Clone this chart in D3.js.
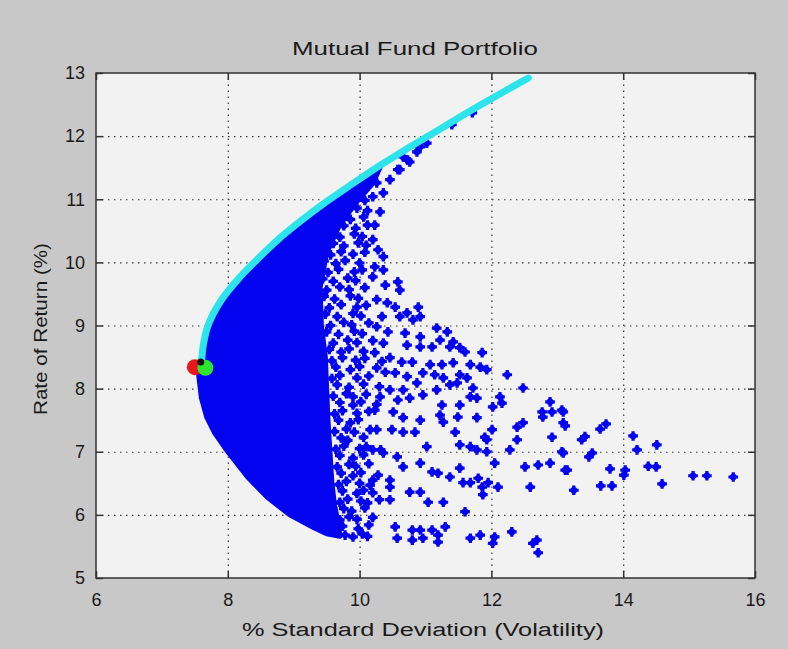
<!DOCTYPE html>
<html>
<head>
<meta charset="utf-8">
<script src="https://cdn.jsdelivr.net/npm/d3@7"></script>
<style>
body{margin:0;background:#c8c8c8}
svg{display:block}
text{font-family:"Liberation Sans",Arial,sans-serif;fill:#1a1a1a}
</style>
</head>
<body>
<svg id="chart" width="788" height="649"></svg>
<script>
var title = "Mutual Fund Portfolio";
var xLabel = "% Standard Deviation (Volatility)";
var yLabel = "Rate of Return (%)";
var xTicks = [6, 8, 10, 12, 14, 16];
var yTicks = [5, 6, 7, 8, 9, 10, 11, 12, 13];

// efficient frontier (cyan)
var frontX = [7.6, 7.63, 7.7, 7.9, 8.17, 8.45, 8.75, 9.1, 9.48, 9.9, 10.33, 10.8, 11.28, 11.76, 12.18, 12.56];
var frontY = [8.4, 8.7, 9.0, 9.4, 9.75, 10.05, 10.35, 10.65, 10.95, 11.25, 11.55, 11.85, 12.15, 12.45, 12.7, 12.92];

// outline of the solid part of the random portfolio cloud
var coreX = [7.6, 7.63, 7.7, 7.9, 8.17, 8.45, 8.75, 9.1, 9.48, 9.9, 10.33, 10.2, 9.95, 9.7, 9.5, 9.4, 9.42, 9.48, 9.5, 9.52, 9.55, 9.58, 9.62, 9.68, 9.7, 9.5, 9.3, 8.94, 8.6, 8.3, 8.0, 7.8, 7.68, 7.6, 7.56];
var coreY = [8.4, 8.7, 9.0, 9.4, 9.75, 10.05, 10.35, 10.65, 10.95, 11.25, 11.55, 11.25, 10.95, 10.6, 10.15, 9.6, 9.0, 8.5, 8.0, 7.5, 7.0, 6.5, 6.15, 5.85, 5.66, 5.7, 5.8, 6.0, 6.28, 6.6, 7.0, 7.3, 7.55, 7.85, 8.2];

// speckled edge of the cloud
var edgeX = [9.78, 9.9, 10.04, 10.12, 9.74, 9.98, 10.14, 9.7, 9.84, 9.96, 10.2, 9.76, 9.88, 10.08,
  9.7, 9.82, 10.02, 10.12, 10.3, 9.74, 9.96, 10.06, 9.68, 9.8, 10.0, 10.16, 9.72, 9.9, 10.02, 10.28,
  9.66, 9.84, 9.94, 10.14, 9.7, 9.9, 10.06, 9.64, 9.76, 10.0, 10.1, 10.32, 9.72, 9.82, 10.06,
  9.62, 9.8, 9.92, 10.16, 9.68, 9.86, 9.98, 9.62, 9.74, 9.96, 10.14, 9.7, 9.9, 10.02, 10.26,
  9.6, 9.8, 9.9, 10.1, 9.66, 9.84, 10.06, 10.3, 9.58, 9.7, 9.96, 10.14, 9.64, 9.86, 10.0,
  9.58, 9.74, 9.94, 10.08, 10.34, 9.54, 9.72, 9.84, 10.06, 9.6, 9.82, 9.96, 10.2, 9.5, 9.68, 9.92, 10.04,
  9.56, 9.76, 9.88, 10.14, 9.48, 9.66, 9.9, 10.02, 9.54, 9.72, 9.96, 10.1, 9.46, 9.62, 9.86, 9.98,
  9.5, 9.7, 9.84, 10.08, 9.44, 9.6, 9.82, 9.94, 9.52, 9.68, 9.92, 10.04, 9.46, 9.64, 9.78, 10.0,
  9.56, 9.72, 9.9, 10.08, 9.6, 9.76, 9.98, 10.1, 9.7, 9.92, 10.04, 9.76, 9.94, 10.12,
  9.86, 10.06, 9.96, 10.12, 10.08];
var edgeY = [5.68, 5.65, 5.70, 5.66, 5.82, 5.78, 5.84, 5.92, 5.97, 5.93, 5.96, 6.10, 6.06, 6.11,
  6.20, 6.25, 6.22, 6.19, 6.24, 6.38, 6.34, 6.39, 6.48, 6.53, 6.50, 6.47, 6.66, 6.62, 6.67, 6.63,
  6.76, 6.80, 6.77, 6.81, 6.94, 6.90, 6.95, 7.04, 7.09, 7.05, 7.08, 7.03, 7.22, 7.18, 7.23,
  7.32, 7.36, 7.31, 7.35, 7.50, 7.46, 7.51, 7.60, 7.65, 7.61, 7.64, 7.78, 7.74, 7.79, 7.75,
  7.88, 7.92, 7.87, 7.91, 8.06, 8.02, 8.07, 8.03, 8.16, 8.21, 8.17, 8.20, 8.34, 8.30, 8.35,
  8.44, 8.49, 8.45, 8.48, 8.43, 8.62, 8.58, 8.63, 8.59, 8.72, 8.77, 8.73, 8.76, 8.90, 8.86, 8.91, 8.87,
  9.00, 9.05, 9.01, 9.04, 9.18, 9.14, 9.19, 9.15, 9.28, 9.33, 9.29, 9.32, 9.46, 9.42, 9.47, 9.43,
  9.56, 9.61, 9.57, 9.60, 9.74, 9.70, 9.75, 9.71, 9.84, 9.89, 9.85, 9.88, 10.02, 9.98, 10.03, 9.99,
  10.12, 10.17, 10.13, 10.16, 10.30, 10.26, 10.31, 10.27, 10.40, 10.45, 10.41, 10.58, 10.54, 10.59,
  10.68, 10.72, 10.86, 10.82, 10.98];

// scattered random portfolios further out
var riskX = [11.71, 11.40, 11.02, 10.92, 10.87, 10.73, 10.66, 10.61, 10.76, 10.58,
  10.46, 10.26, 10.36, 10.20, 10.31, 10.23, 10.20, 10.28, 10.36, 10.23,
  10.36, 10.20, 10.39, 10.58, 10.61, 10.26, 10.42, 10.54, 10.72, 10.89,
  10.92, 10.81, 10.61, 10.34, 10.26, 10.43, 10.69, 10.36, 10.92, 11.17,
  11.33, 11.22, 11.10, 11.42, 11.52, 10.72, 10.92, 11.37, 11.60, 11.86,
  10.23, 10.46, 10.64, 10.80, 11.07, 11.25, 11.42, 11.68, 11.83, 10.26,
  10.39, 10.54, 10.72, 10.96, 11.14, 11.27, 11.52, 11.63, 11.93, 12.24,
  12.48, 10.87, 11.17, 11.37, 11.48, 11.72, 10.46, 10.66, 10.31, 10.58,
  10.76, 10.96, 11.68, 11.78, 12.13, 12.16, 12.02, 11.25, 11.52, 12.89,
  12.77, 12.78, 12.92, 13.07, 13.09, 12.92, 12.48, 12.39, 12.39, 12.28,
  12.51, 12.71, 12.89, 13.12, 13.07, 12.59, 10.23, 10.51, 10.66, 10.92,
  11.22, 11.27, 11.49, 11.78, 10.26, 10.49, 10.66, 10.84, 11.45, 11.90,
  11.93, 12.01, 11.02, 11.52, 11.68, 11.78, 11.93, 12.05, 10.20, 10.36,
  10.57, 10.66, 10.92, 11.10, 11.19, 11.37, 11.52, 11.57, 11.68, 11.80,
  11.86, 11.95, 12.10, 11.87, 10.20, 10.46, 10.46, 10.20, 10.46, 10.76,
  10.92, 11.04, 11.27, 11.60, 10.54, 10.57, 10.80, 10.92, 11.10, 11.30,
  11.19, 10.80, 10.96, 11.19, 11.68, 11.83, 12.05, 12.02, 12.31, 12.63,
  12.69, 12.71, 13.09, 13.12, 13.42, 13.37, 13.65, 13.74, 14.15, 14.51,
  14.21, 13.09, 13.53, 13.48, 13.15, 13.80, 14.03, 14.01, 14.38, 14.50,
  15.06, 15.27, 15.67, 13.66, 13.83, 13.25, 14.59];
var returnY = [12.37, 12.18, 11.89, 11.83, 11.75, 11.62, 11.67, 11.47, 11.59, 11.47,
  11.31, 11.26, 11.10, 11.04, 10.80, 10.59, 10.36, 10.20, 10.09, 9.93,
  9.88, 9.77, 9.64, 9.69, 9.56, 9.41, 9.36, 9.29, 9.20, 9.29,
  9.14, 9.09, 9.14, 9.14, 8.98, 8.90, 8.88, 8.72, 8.82, 8.96,
  8.90, 8.77, 8.66, 8.74, 8.65, 8.69, 8.66, 8.66, 8.58, 8.57,
  8.57, 8.49, 8.42, 8.42, 8.38, 8.38, 8.41, 8.38, 8.34, 8.33,
  8.26, 8.25, 8.19, 8.25, 8.22, 8.17, 8.22, 8.17, 8.30, 8.22,
  8.01, 8.09, 7.98, 8.06, 8.09, 8.01, 7.98, 7.98, 7.87, 7.82,
  7.85, 7.90, 7.87, 7.85, 7.87, 7.77, 7.71, 7.74, 7.74, 7.79,
  7.63, 7.55, 7.63, 7.66, 7.46, 7.23, 7.46, 7.39, 7.19, 7.03,
  6.76, 6.79, 6.82, 6.71, 7.00, 6.44, 7.66, 7.63, 7.54, 7.50,
  7.58, 7.47, 7.55, 7.54, 7.35, 7.35, 7.31, 7.31, 7.31, 7.23,
  7.19, 7.35, 7.08, 7.11, 7.08, 7.03, 7.00, 6.82, 7.03, 6.98,
  6.92, 6.76, 6.82, 6.68, 6.66, 6.60, 6.74, 6.51, 6.51, 6.58,
  6.44, 6.51, 6.44, 6.32, 6.55, 6.55, 6.44, 6.35, 6.24, 6.36,
  6.36, 6.20, 6.20, 6.05, 5.81, 5.63, 5.76, 5.76, 5.76, 5.81,
  5.68, 5.60, 5.63, 5.57, 5.63, 5.68, 5.65, 5.55, 5.73, 5.55,
  5.60, 5.40, 7.63, 7.41, 7.24, 7.19, 7.36, 7.44, 7.25, 7.11,
  7.03, 6.98, 6.98, 6.92, 6.71, 6.73, 6.71, 6.63, 6.77, 6.76,
  6.62, 6.62, 6.60, 6.46, 6.46, 6.39, 6.49];

// highlighted portfolios
var markX = [7.50, 7.66, 7.59];
var markY = [8.34, 8.33, 8.42];
var markColor = ['#e8181a', '#2ee62e', '#111111'];
var markR = [8, 8, 3.5];

var svg = d3.select('#chart');
var x = d3.scaleLinear().domain([6, 16]).range([96, 755]);
var y = d3.scaleLinear().domain([5, 13]).range([578, 73]);
var yTop = y(13), yBot = y(5), xLeft = x(6), xRight = x(16);
var blue = '#0303f0';

svg.append('rect').attr('width', 788).attr('height', 649).attr('fill', '#c8c8c8');
svg.append('rect').attr('x', xLeft).attr('y', yTop).attr('width', xRight - xLeft).attr('height', yBot - yTop).attr('fill', '#f2f2f2');

// dotted grid
var gx = svg.append('g').attr('transform', 'translate(0,' + yBot + ')')
  .call(d3.axisBottom(x).tickValues(xTicks.slice(1, -1)).tickSize(-(yBot - yTop)).tickFormat(''));
var gy = svg.append('g').attr('transform', 'translate(' + xLeft + ',0)')
  .call(d3.axisLeft(y).tickValues(yTicks.slice(1, -1)).tickSize(-(xRight - xLeft)).tickFormat(''));
[gx, gy].forEach(function(g){
  g.select('.domain').remove();
  g.selectAll('line').attr('stroke', '#3a3a3a').attr('stroke-width', 1.2).attr('stroke-dasharray', '1.5,4.5');
});

// solid cloud
var outline = d3.line().x(function(d){ return x(d[0]); }).y(function(d){ return y(d[1]); });
svg.append('path')
  .attr('d', outline(d3.zip(coreX, coreY)) + 'Z')
  .attr('fill', blue).attr('stroke', blue).attr('stroke-width', 5).attr('stroke-linejoin', 'round');

// individual portfolios
var allPts = d3.zip(edgeX, edgeY).concat(d3.zip(riskX, returnY));
var cross = d3.symbol().type(d3.symbolCross).size(52);
var pts = svg.append('g').selectAll('g').data(allPts).enter().append('g')
  .attr('transform', function(d){ return 'translate(' + x(d[0]) + ',' + y(d[1]) + ')'; });
pts.append('path').attr('d', cross).attr('fill', blue);
pts.append('circle').attr('r', 3.3).attr('fill', blue);

// frontier
svg.append('path')
  .attr('d', d3.line().curve(d3.curveCatmullRom).x(function(d){ return x(d[0]); }).y(function(d){ return y(d[1]); })(d3.zip(frontX, frontY)))
  .attr('fill', 'none').attr('stroke', '#2ee4ec').attr('stroke-width', 7).attr('stroke-linecap', 'round');

svg.append('g').selectAll('circle').data(markX).enter().append('circle')
  .attr('cx', function(d){ return x(d); })
  .attr('cy', function(d, i){ return y(markY[i]); })
  .attr('r', function(d, i){ return markR[i]; })
  .attr('fill', function(d, i){ return markColor[i]; });

// box and axes
svg.append('rect').attr('x', xLeft).attr('y', yTop).attr('width', xRight - xLeft).attr('height', yBot - yTop)
  .attr('fill', 'none').attr('stroke', '#333').attr('stroke-width', 1.5);

var ax = svg.append('g').attr('transform', 'translate(0,' + yBot + ')')
  .call(d3.axisBottom(x).tickValues(xTicks).tickSizeInner(-7).tickSizeOuter(0).tickPadding(15));
var ay = svg.append('g').attr('transform', 'translate(' + xLeft + ',0)')
  .call(d3.axisLeft(y).tickValues(yTicks).tickSizeInner(-7).tickSizeOuter(0).tickPadding(11));
var at = svg.append('g').attr('transform', 'translate(0,' + yTop + ')')
  .call(d3.axisTop(x).tickValues(xTicks).tickSizeInner(-7).tickSizeOuter(0).tickFormat(''));
var ar = svg.append('g').attr('transform', 'translate(' + xRight + ',0)')
  .call(d3.axisRight(y).tickValues(yTicks).tickSizeInner(-7).tickSizeOuter(0).tickFormat(''));
[ax, ay, at, ar].forEach(function(g){
  g.select('.domain').remove();
  g.selectAll('line').attr('stroke', '#333').attr('stroke-width', 1.5);
  g.selectAll('text').attr('font-size', 18).attr('fill', '#1a1a1a')
    .style('font-family', '"Liberation Sans",Arial,sans-serif');
});

svg.append('text').attr('x', 415).attr('y', 55).attr('text-anchor', 'middle')
  .attr('font-size', 18).attr('textLength', 246).attr('lengthAdjust', 'spacingAndGlyphs').text(title);
svg.append('text').attr('x', 423).attr('y', 636).attr('text-anchor', 'middle')
  .attr('font-size', 18).attr('textLength', 362).attr('lengthAdjust', 'spacingAndGlyphs').text(xLabel);
svg.append('text').attr('transform', 'translate(47,329) rotate(-90)').attr('text-anchor', 'middle')
  .attr('font-size', 18).attr('textLength', 172).attr('lengthAdjust', 'spacingAndGlyphs').text(yLabel);
</script>
</body>
</html>
